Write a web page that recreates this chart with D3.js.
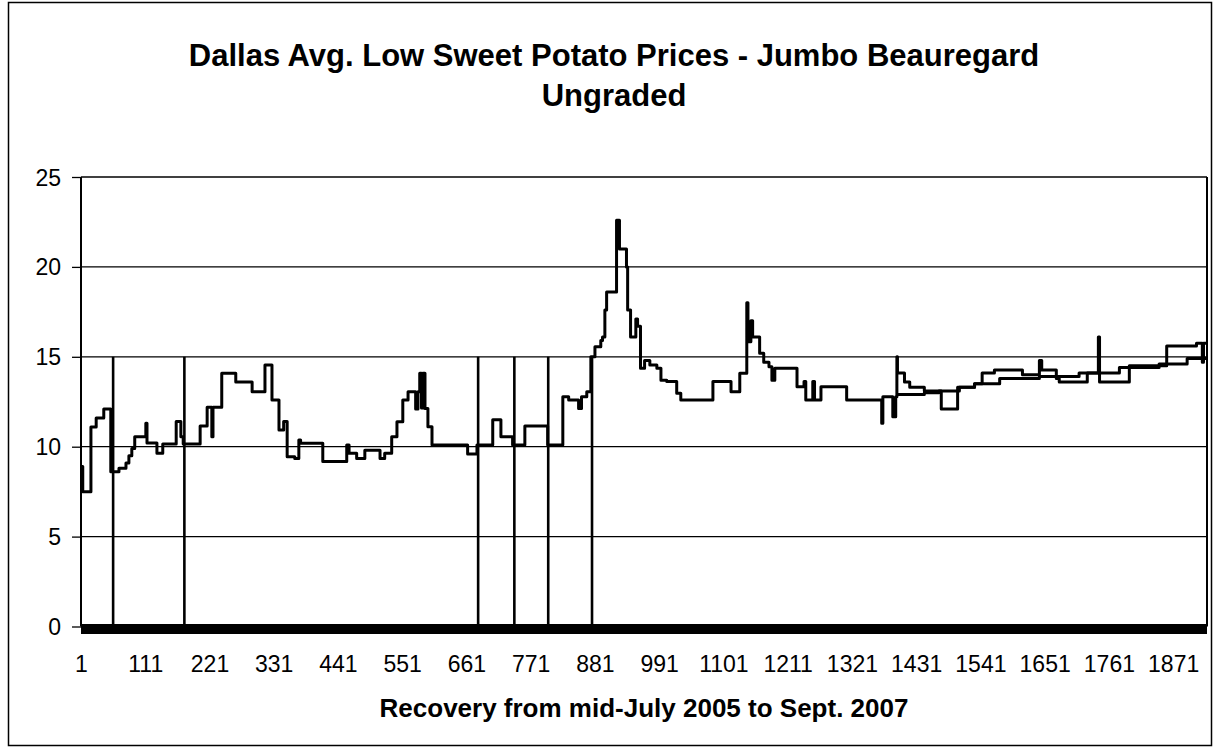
<!DOCTYPE html>
<html>
<head>
<meta charset="utf-8">
<script src="https://cdn.jsdelivr.net/npm/d3@7"></script>
<style>
  html, body { margin: 0; padding: 0; background: #fff; }
  svg { display: block; font-family: "Liberation Sans", Arial, sans-serif; }
</style>
</head>
<body>
<svg id="chart" width="1217" height="752"></svg>
<script>
// ---- Data ----
const titleLines = ["Dallas Avg. Low Sweet Potato Prices - Jumbo Beauregard", "Ungraded"];
const xAxisTitle = "Recovery from mid-July 2005 to Sept. 2007";
const dayCount = 1929;
const xTickLabels = [1, 111, 221, 331, 441, 551, 661, 771, 881, 991, 1101, 1211, 1321, 1431, 1541, 1651, 1761, 1871];
const yTickLabels = [0, 5, 10, 15, 20, 25];

// Main price series: day where the price changes, and the new price
const priceDays = [1, 4, 18, 27, 40, 52, 66, 78, 83, 88, 93, 112, 114, 131, 141, 164, 172, 176, 205, 217,
  225, 227, 242, 266, 294, 316, 328, 340, 348, 354, 367, 374, 377, 415, 456, 460, 473, 487, 513, 521,
  533, 542, 552, 561, 574, 578, 581, 584, 586, 590, 595, 602, 663, 679, 706, 720, 740, 761, 800, 826,
  836, 853, 858, 867, 874, 881, 891, 894, 898, 901, 918, 923, 935, 937, 942, 951, 954, 959, 966, 975,
  987, 994, 1004, 1021, 1028, 1083, 1114, 1129, 1141, 1143, 1148, 1151, 1163, 1170, 1179, 1184, 1189, 1227, 1239, 1242,
  1254, 1257, 1268, 1312, 1372, 1374, 1391, 1396, 1398, 1399, 1411, 1420, 1445, 1474, 1502, 1531, 1544, 1565, 1613, 1642,
  1646, 1671, 1676, 1724, 1743, 1745, 1796, 1860, 1911, 1921, 1923];
const prices = [8.9, 7.5, 11.1, 11.6, 12.1, 8.6, 8.8, 9.1, 9.5, 9.9, 10.55, 11.3, 10.2, 9.63, 10.15, 11.4, 10.55, 10.15, 11.15, 12.2,
  10.55, 12.2, 14.08, 13.6, 13.06, 14.54, 12.6, 10.93, 11.4, 9.44, 9.35, 10.37, 10.19, 9.17, 10.1, 9.63, 9.35, 9.8, 9.35, 9.63,
  10.55, 11.39, 12.6, 13.06, 12.1, 13.06, 14.08, 12.15, 14.08, 12.13, 11.11, 10.1, 9.6, 10.1, 11.5, 10.55, 10.1, 11.15, 10.1, 12.78,
  12.6, 12.13, 12.78, 13.06, 15.0, 15.56, 15.9, 16.1, 17.6, 18.6, 22.6, 21.0, 20.0, 17.6, 16.1, 17.1, 16.7, 14.36, 14.8, 14.54,
  14.36, 13.7, 13.62, 12.97, 12.6, 13.62, 13.06, 14.08, 18.0, 15.84, 17.0, 16.1, 15.2, 14.7, 14.45, 13.7, 14.36, 13.34, 13.62, 12.6,
  13.62, 12.6, 13.34, 12.6, 11.3, 12.78, 11.67, 12.78, 15.0, 14.1, 13.6, 13.3, 13.1, 12.1, 13.3, 13.5, 14.1, 14.27, 14.0, 14.8,
  14.26, 13.8, 13.6, 14.1, 16.1, 13.6, 14.5, 15.6, 15.75, 14.7, 15.75];

// Second (trend) price series in the last part of the period
const trendDays = [1399, 1445, 1470, 1505, 1531, 1574, 1642, 1710, 1779, 1847, 1895];
const trendPrices = [12.9, 13.0, 13.1, 13.3, 13.5, 13.8, 13.9, 14.1, 14.4, 14.6, 14.9];

// Marker series: days with a vertical drop line up to 15
const markerDays = [56, 178, 681, 743, 801, 876];
const markerValue = 15;

// ---- Layout ----
const svg = d3.select("#chart");
const plot = { left: 81, right: 1207, top: 177, bottom: 626.5 };

const x = d3.scaleLinear().domain([1, dayCount]).range([plot.left, plot.right]);
const y = d3.scaleLinear().domain([0, 25]).range([plot.bottom, plot.top]);

// outer chart border
svg.append("rect")
  .attr("x", 8.5).attr("y", 2.5)
  .attr("width", 1203).attr("height", 743)
  .attr("fill", "#fff").attr("stroke", "#000").attr("stroke-width", 1.5);

// title
svg.append("g").selectAll("text").data(titleLines).join("text")
  .attr("x", 614).attr("y", (d, i) => 66 + i * 40)
  .attr("text-anchor", "middle")
  .attr("font-size", 31).attr("font-weight", "bold")
  .text(d => d);

// gridlines + y ticks
const yAxis = d3.axisLeft(y).tickValues(yTickLabels).tickSize(9).tickPadding(11).tickFormat(d3.format("d"));
const gy = svg.append("g").attr("transform", `translate(${plot.left},0)`).call(yAxis);
gy.select(".domain").remove();
gy.selectAll("line").attr("stroke", "#000").attr("stroke-width", 1.3);
gy.selectAll("text").attr("font-size", 23).attr("fill", "#000").attr("dy", "0.35em")
  .attr("font-family", "Liberation Sans, Arial, sans-serif");

svg.append("g").selectAll("line").data(yTickLabels.filter(v => v > 0)).join("line")
  .attr("x1", plot.left).attr("x2", plot.right)
  .attr("y1", d => y(d)).attr("y2", d => y(d))
  .attr("stroke", "#000").attr("stroke-width", 1.3);

// left axis & right border
svg.append("line").attr("x1", plot.left).attr("x2", plot.left)
  .attr("y1", y(25)).attr("y2", y(0)).attr("stroke", "#000").attr("stroke-width", 2);
svg.append("line").attr("x1", plot.right).attr("x2", plot.right)
  .attr("y1", y(25)).attr("y2", y(0)).attr("stroke", "#000").attr("stroke-width", 2);

// marker drop lines
svg.append("g").selectAll("line").data(markerDays).join("line")
  .attr("x1", d => x(d)).attr("x2", d => x(d))
  .attr("y1", y(0)).attr("y2", y(markerValue))
  .attr("stroke", "#000").attr("stroke-width", 2.6);

// thick base band at zero
svg.append("rect")
  .attr("x", x(1)).attr("width", x(dayCount) - x(1))
  .attr("y", y(0) - 2.5).attr("height", 10)
  .attr("fill", "#000");

// x tick labels
const xAxis = d3.axisBottom(x).tickValues(xTickLabels).tickSize(0).tickPadding(0).tickFormat(d3.format("d"));
const gx = svg.append("g").attr("transform", `translate(0,${y(0)})`).call(xAxis);
gx.select(".domain").remove();
gx.selectAll("text").attr("font-size", 23).attr("fill", "#000")
  .attr("y", 37).attr("dy", "0.35em")
  .attr("font-family", "Liberation Sans, Arial, sans-serif");

// x axis title
svg.append("text")
  .attr("x", (plot.left + plot.right) / 2).attr("y", 717)
  .attr("text-anchor", "middle")
  .attr("font-size", 26).attr("font-weight", "bold")
  .text(xAxisTitle);

// price lines
const line = d3.line().x(d => x(d[0])).y(d => y(d[1])).curve(d3.curveStepAfter);

const mainPts = priceDays.map((d, i) => [d, prices[i]]);
mainPts.push([dayCount, prices[prices.length - 1]]);
const trendPts = trendDays.map((d, i) => [d, trendPrices[i]]);
trendPts.push([dayCount, trendPrices[trendPrices.length - 1]]);

svg.append("path").datum(trendPts).attr("d", line)
  .attr("fill", "none").attr("stroke", "#000").attr("stroke-width", 3).attr("stroke-linejoin", "round");
svg.append("path").datum(mainPts).attr("d", line)
  .attr("fill", "none").attr("stroke", "#000").attr("stroke-width", 3).attr("stroke-linejoin", "round");
</script>
</body>
</html>
